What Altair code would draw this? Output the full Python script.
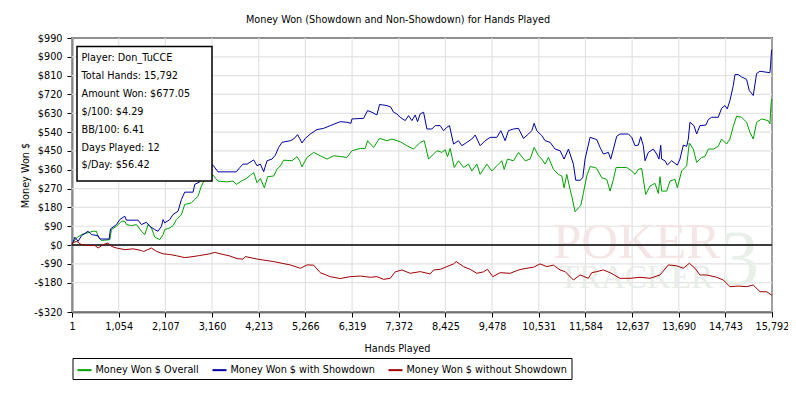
import altair as alt
import pandas as pd

TITLE = "Money Won (Showdown and Non-Showdown) for Hands Played"
SERIES = ["Money Won $ Overall", "Money Won $ with Showdown", "Money Won $ without Showdown"]
COLORS = ["#00a000", "#0000a0", "#a00000"]

X_TICKS = [1, 1054, 2107, 3160, 4213, 5266, 6319, 7372, 8425, 9478, 10531,
           11584, 12637, 13690, 14743, 15792]
Y_TICKS = [-320, -180, -90, 0, 90, 180, 270, 360, 450, 540, 630, 720, 810, 900, 990]

INFO_LINES = ["Player: Don_TuCCE", "Total Hands: 15,792", "Amount Won: $677.05",
              "$/100: $4.29", "BB/100: 6.41", "Days Played: 12", "$/Day: $56.42"]

# (hands played, money won $)
OVERALL = [(1,0),(12,10),(102,34),(215,50),(478,66),(553,66),(591,38),(666,22),(854,26),(891,74),(1004,90),(1117,114),(1192,114),(1229,98),(1342,93),(1455,98),(1567,66),(1643,50),(1718,98),(1793,82),(1868,38),(1981,26),(2056,50),(2093,74),(2206,82),(2281,93),(2356,122),(2469,146),(2544,194),(2694,202),(2770,218),(2845,234),(2920,282),(2995,314),(3070,334),(3183,334),(3295,306),(3483,302),(3634,306),(3709,290),(3821,306),(3934,318),(4024,334),(4100,346),(4175,298),(4250,318),(4340,274),(4415,327),(4550,330),(4625,362),(4701,379),(4776,406),(4964,403),(5076,423),(5136,403),(5189,375),(5302,419),(5452,443),(5602,427),(5752,411),(5903,427),(6053,423),(6203,419),(6316,451),(6504,462),(6616,462),(6669,499),(6804,467),(6939,510),(7105,499),(7217,507),(7405,494),(7556,475),(7706,459),(7856,491),(7947,499),(8044,411),(8157,435),(8232,451),(8345,443),(8420,456),(8472,423),(8533,462),(8623,371),(8720,403),(8833,371),(8946,387),(9021,354),(9134,387),(9209,338),(9359,387),(9472,354),(9584,379),(9697,403),(9750,362),(9825,411),(9960,403),(10073,443),(10223,403),(10336,411),(10426,467),(10524,427),(10599,411),(10674,387),(10749,419),(10862,362),(10974,338),(11050,330),(11102,274),(11162,338),(11237,266),(11275,234),(11350,159),(11425,178),(11478,189),(11538,250),(11613,330),(11688,375),(11801,371),(11838,366),(11951,322),(12064,314),(12139,258),(12214,314),(12274,371),(12402,371),(12514,371),(12627,354),(12703,338),(12778,362),(12852,366),(12890,314),(12943,242),(13040,282),(13153,295),(13228,247),(13266,327),(13303,258),(13416,258),(13491,306),(13604,314),(13656,274),(13754,354),(13867,379),(13927,488),(14017,459),(14092,395),(14205,419),(14280,423),(14355,459),(14468,459),(14580,472),(14655,507),(14768,483),(14843,507),(14919,568),(14994,616),(15106,611),(15219,587),(15294,539),(15369,507),(15445,587),(15557,603),(15707,595),(15745,579),(15768,667),(15782,696),(15792,690)]

SHOWDOWN = [(1,0),(65,38),(140,18),(215,45),(365,66),(440,50),(591,45),(628,29),(839,29),(869,77),(1004,98),(1079,122),(1192,138),(1229,119),(1492,119),(1567,98),(1680,109),(1755,90),(1868,74),(1943,66),(2018,90),(2056,122),(2093,106),(2206,122),(2281,146),(2394,162),(2469,218),(2544,253),(2732,253),(2770,290),(2882,302),(2957,330),(3032,363),(3183,382),(3295,350),(3709,350),(3784,370),(3859,387),(3949,387),(4100,407),(4175,379),(4250,387),(4325,351),(4400,403),(4513,411),(4588,430),(4663,467),(4738,491),(4926,499),(5001,507),(5091,528),(5136,510),(5189,488),(5264,510),(5377,531),(5527,552),(5677,558),(5828,571),(6053,590),(6203,587),(6293,582),(6316,603),(6579,606),(6669,643),(6767,635),(6879,622),(6939,672),(7105,667),(7195,659),(7255,635),(7330,627),(7405,611),(7518,595),(7593,619),(7668,595),(7743,622),(7796,590),(7856,627),(7932,635),(8007,555),(8119,555),(8194,571),(8307,571),(8382,547),(8457,563),(8517,571),(8608,483),(8720,499),(8795,475),(8908,491),(9021,507),(9096,526),(9209,475),(9321,499),(9434,515),(9584,515),(9675,547),(9772,499),(9847,547),(9960,555),(10073,558),(10185,510),(10298,531),(10373,547),(10426,582),(10486,547),(10599,523),(10674,499),(10787,491),(10899,459),(11012,451),(11102,411),(11200,459),(11312,387),(11365,310),(11463,310),(11523,322),(11575,411),(11688,515),(11801,507),(11838,504),(11913,467),(11989,435),(12101,443),(12154,411),(12214,459),(12289,520),(12364,531),(12552,531),(12627,515),(12703,475),(12778,478),(12830,518),(12890,475),(12928,403),(13003,443),(13115,459),(13191,435),(13243,411),(13281,478),(13303,411),(13378,403),(13431,383),(13529,403),(13656,382),(13716,411),(13792,478),(13867,472),(13904,507),(13942,587),(14032,571),(14092,531),(14167,571),(14302,574),(14355,600),(14430,611),(14580,611),(14655,654),(14731,667),(14783,651),(14843,691),(14919,763),(14956,815),(15031,815),(15106,804),(15219,792),(15279,739),(15369,715),(15445,820),(15520,831),(15745,824),(15760,860),(15782,932),(15792,935)]

NON_SHOWDOWN = [(1,0),(12,10),(102,18),(215,2),(328,-2),(516,-2),(591,-14),(703,2),(816,10),(891,-6),(1004,-14),(1192,-22),(1380,-18),(1567,-26),(1613,-31),(1793,-14),(1906,-30),(2056,-42),(2206,-45),(2356,-51),(2544,-60),(2732,-55),(2882,-50),(3108,-42),(3220,-35),(3408,-45),(3558,-52),(3725,-65),(3859,-67),(3912,-55),(4175,-67),(4550,-79),(4926,-95),(5151,-111),(5302,-95),(5452,-96),(5602,-132),(5828,-151),(6053,-160),(6278,-151),(6504,-148),(6729,-154),(6879,-151),(7030,-164),(7180,-159),(7293,-128),(7443,-119),(7631,-135),(7856,-127),(8082,-138),(8157,-119),(8307,-116),(8457,-103),(8608,-90),(8668,-79),(8833,-103),(8983,-116),(9134,-135),(9284,-128),(9374,-116),(9494,-151),(9660,-132),(9885,-135),(10073,-119),(10223,-112),(10411,-106),(10561,-90),(10711,-103),(10862,-96),(11012,-119),(11125,-127),(11312,-167),(11463,-143),(11650,-159),(11726,-132),(11838,-127),(11989,-119),(12139,-132),(12364,-159),(12589,-159),(12815,-154),(13040,-159),(13266,-143),(13454,-95),(13641,-99),(13792,-111),(13927,-87),(14055,-111),(14167,-143),(14317,-143),(14543,-154),(14693,-167),(14843,-199),(15031,-196),(15219,-199),(15369,-191),(15520,-223),(15670,-223),(15782,-239),(15792,-240)]

FONT = "DejaVu Sans"
FS = 9.7
GRID = "#e2e2e2"

rows = []
for name, pts in zip(SERIES, [OVERALL, SHOWDOWN, NON_SHOWDOWN]):
    for h, v in pts:
        rows.append({"hands": h, "won": v, "series": name})
df = pd.DataFrame(rows)

x_scale = alt.Scale(domain=[1, 15792], nice=False, zero=False)
y_scale = alt.Scale(domain=[-320, 990], nice=False, zero=False)

x_axis = alt.Axis(values=X_TICKS, format=",d", title="Hands Played", grid=False,
                  tickSize=5, labelPadding=4,
                  labelFlush=False, labelOverlap=False, labelBound=False,
                  titleX=325, titleY=36, titleBaseline="middle", titleAlign="center")
y_axis = alt.Axis(values=Y_TICKS, title="Money Won $", grid=False,
                  tickSize=5, labelPadding=5,
                  labelOverlap=False, labelBound=False, labelFlush=False,
                  labelExpr="datum.value < 0 ? '-$' + abs(datum.value) : '$' + datum.value",
                  titleX=-47, titleY=137, titleAlign="center", titleBaseline="middle")

# grid lines at the tick values, drawn through the scales
xgrid = alt.Chart(pd.DataFrame({"gx": X_TICKS})).mark_rule(color=GRID, strokeWidth=1.2).encode(
    x=alt.X("gx:Q", scale=x_scale, axis=x_axis)
)
ygrid = alt.Chart(pd.DataFrame({"gy": Y_TICKS})).mark_rule(color=GRID, strokeWidth=1.2).encode(
    y=alt.Y("gy:Q", scale=y_scale, axis=y_axis)
)

lines = alt.Chart(df).mark_line(strokeWidth=1, interpolate="linear").encode(
    x=alt.X("hands:Q", scale=x_scale, axis=x_axis),
    y=alt.Y("won:Q", scale=y_scale, axis=y_axis),
    color=alt.Color("series:N", scale=alt.Scale(domain=SERIES, range=COLORS),
                    legend=alt.Legend(title=None, orient="none", legendX=0.5, legendY=320,
                                      direction="horizontal", columns=3,
                                      symbolType="stroke", symbolStrokeWidth=2,
                                      symbolSize=196, labelFont=FONT, labelFontSize=FS,
                                      labelColor="#000", labelOffset=3, columnPadding=9,
                                      labelLimit=400,
                                      padding=4, strokeColor="#000", fillColor="#fff")),
    order=alt.Order("hands:Q"),
)

zero = alt.Chart(pd.DataFrame({"z": [0]})).mark_rule(color="#000", strokeWidth=1.5).encode(
    y=alt.Y("z:Q", scale=y_scale, axis=y_axis)
)

wm_poker = alt.Chart(pd.DataFrame({"t": ["POKER"]})).mark_text(
    font="Liberation Serif", fontSize=51, color="#f4e6e6", align="left", baseline="alphabetic"
).encode(text="t:N", x=alt.value(481), y=alt.value(220))
wm_tracker = alt.Chart(pd.DataFrame({"t": ["TRACKER"]})).mark_text(
    font="Liberation Serif", fontSize=33, color="#e8ede8", align="left", baseline="alphabetic"
).encode(text="t:N", x=alt.value(487), y=alt.value(250))
wm_three = alt.Chart(pd.DataFrame({"t": ["3"]})).mark_text(
    font="Liberation Serif", fontSize=78, color="#e9f0e9", align="left", baseline="alphabetic"
).encode(text="t:N", x=alt.value(648), y=alt.value(246))

info_box = alt.Chart(pd.DataFrame({"a": [0]})).mark_rect(
    fill="#fff", stroke="#000", strokeWidth=1.5
).encode(x=alt.value(5), x2=alt.value(140), y=alt.value(8.5), y2=alt.value(143))

info_text = alt.Chart(pd.DataFrame({"t": ["\n".join(INFO_LINES)]})).mark_text(
    font=FONT, fontSize=FS, color="#000", align="left", baseline="middle",
    lineBreak="\n", lineHeight=17.9
).encode(text="t:N", x=alt.value(9.5), y=alt.value(20))

chart = alt.layer(xgrid, ygrid, wm_poker, wm_tracker, wm_three, zero, lines,
                  info_box, info_text).properties(
    width=700, height=274,
    title=alt.TitleParams(TITLE, font=FONT, fontSize=FS, fontWeight="normal", color="#000",
                          anchor="middle", frame="group", dx=-24, offset=8),
    autosize=alt.AutoSizeParams(type="none"),
    padding={"left": 64, "top": 30, "right": 16, "bottom": 77},
).configure_view(
    stroke="#000", strokeWidth=1.5
).configure_axis(
    labelFont=FONT, labelFontSize=FS, labelColor="#000", titleFont=FONT, titleFontSize=FS,
    titleFontWeight="normal", titleColor="#000", domainColor="#000", domainWidth=1.5,
    tickColor="#000", tickWidth=1, labelOverlap=False
)

chart.save("out.html", embed_options={"renderer": "svg", "actions": False})
